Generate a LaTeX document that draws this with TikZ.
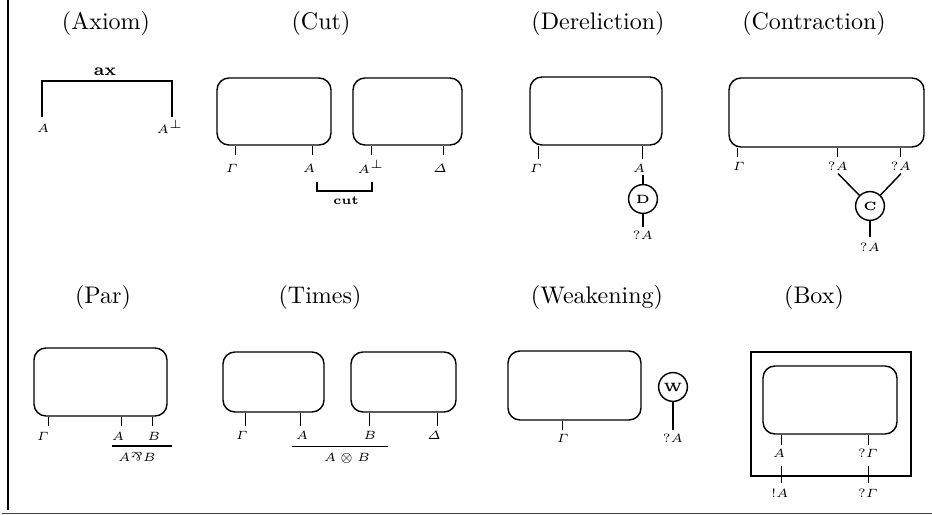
\documentclass[tikz,border=0pt]{standalone}
\usepackage{amsmath}
\usetikzlibrary{fit}
\begin{document}
\begin{tikzpicture}[x=0.416667pt,y=-0.416667pt,
  lw/.style={line width=0.6pt},
  pbox/.style={draw,lw,rounded corners=5pt,inner sep=0pt},
  sbox/.style={draw,lw,inner sep=0pt},
  wire/.style={lw},
  ttl/.style={inner sep=0pt,font=\normalsize},
  lbl/.style={inner sep=0pt,font=\tiny},
  blbl/.style={inner sep=0pt},
  gate/.style={draw,lw,circle,inner sep=0pt,minimum size=12pt,font=\tiny\bfseries},
]
\useasboundingbox (0,0) rectangle (932,515);
% frame
\coordinate (fTop) at (8,0);
\coordinate (fBot) at (8,510);
\draw[line width=0.75pt] (fTop) -- (fBot);
\coordinate (hL) at (2,513.6);
\coordinate (hR) at (932,513.6);
\draw[line width=0.75pt,black!75] (hL) -- (hR);

% titles
\node[ttl] (tAx) at (106,24) {(Axiom)};
\node[ttl] (tCut) at (321,24) {(Cut)};
\node[ttl] (tDer) at (598,24) {(Dereliction)};
\node[ttl] (tCon) at (814,24) {(Contraction)};
\node[ttl] (tPar) at (103,298) {(Par)};
\node[ttl] (tTim) at (320,298) {(Times)};
\node[ttl] (tWea) at (597,298) {(Weakening)};
\node[ttl] (tBox) at (814,298) {(Box)};

% ---------- Axiom
\node[lbl] (axA) at (43,128) {$A$};
\node[lbl] (axB) at (170,127) {$A^{\perp}$};
\coordinate (axL) at (42,117);
\coordinate (axR) at (172,117);
\draw[wire] (axL) -- ++(0,-36) -| (axR);
\node[blbl,font=\scriptsize\bfseries] (ax) at (105,72) {ax};

% ---------- Cut
\node[pbox,fit={(217,78)(331,145)}] (cb1) {};
\node[pbox,fit={(353,78)(462,145)}] (cb2) {};
\draw[wire] (cb1.south west) ++(19,0) -- ++(0,9);
\draw[wire] (cb1.south west) ++(96,0) -- ++(0,9);
\draw[wire] (cb2.south west) ++(19,0) -- ++(0,9);
\draw[wire] (cb2.south west) ++(91,0) -- ++(0,9);
\node[lbl] (cG) at (232,168) {$\varGamma$};
\node[lbl] (cA) at (309,168) {$A$};
\node[lbl] (cAp) at (371,167) {$A^{\perp}$};
\node[lbl] (cD) at (440,168) {$\varDelta$};
\coordinate (cutL) at (317,182);
\coordinate (cutR) at (372,182);
\draw[wire] (cutL) -- ++(0,9) -| (cutR);
\node[blbl,font=\tiny\bfseries] (cut) at (346,201) {cut};

% ---------- Dereliction
\node[pbox,fit={(530,77)(662,145)}] (db) {};
\draw[wire] (db.south west) ++(9,0) -- ++(0,13);
\draw[wire] (db.south west) ++(113,0) -- ++(0,13);
\node[lbl] (dG) at (536,168) {$\varGamma$};
\node[lbl] (dA) at (639,168) {$A$};
\node[gate] (dD) at (643,199) {D};
\draw[wire] (dD.north) -- ++(0,-9);
\draw[wire] (dD.south) -- ++(0,13);
\node[lbl] (dQ) at (643,235) {$?A$};

% ---------- Contraction
\node[pbox,fit={(729,78)(924,147)}] (kb) {};
\draw[wire] (kb.south west) ++(9,0) -- ++(0,9);
\draw[wire] (kb.south west) ++(109,0) -- ++(0,9);
\draw[wire] (kb.south west) ++(172,0) -- ++(0,9);
\node[lbl] (kG) at (739,166) {$\varGamma$};
\node[lbl] (kq1) at (838,166) {$?A$};
\node[lbl] (kq2) at (901,166) {$?A$};
\node[gate] (kC) at (870,206) {C};
\draw[wire] (kq1.south) ++(0,3) -- (kC);
\draw[wire] (kq2.south) ++(0,3) -- (kC);
\draw[wire] (kC.south) -- ++(0,16);
\node[lbl] (kQ) at (870,247) {$?A$};

% ---------- Par
\node[pbox,fit={(34,348)(167,416)}] (pb) {};
\draw[wire] (pb.south west) ++(15,0) -- ++(0,9);
\draw[wire] (pb.south west) ++(88,0) -- ++(0,9);
\draw[wire] (pb.south west) ++(119,0) -- ++(0,9);
\node[lbl] (pG) at (43,436) {$\varGamma$};
\node[lbl] (pA) at (118,436) {$A$};
\node[lbl] (pB) at (154,436) {$B$};
\node[lbl] (pAB) at (137,457) {$A\rotatebox[origin=c]{180}{\&}B$};
\draw[wire] (pAB.north) ++(-25,-6) -- ++(60,0);

% ---------- Times
\node[pbox,fit={(223,352)(324,412)}] (tb1) {};
\node[pbox,fit={(351,352)(456,412)}] (tb2) {};
\draw[wire] (tb1.south west) ++(23,0) -- ++(0,13);
\draw[wire] (tb1.south west) ++(78,0) -- ++(0,13);
\draw[wire] (tb2.south west) ++(19,0) -- ++(0,13);
\draw[wire] (tb2.south west) ++(87,0) -- ++(0,13);
\node[lbl] (tG) at (242,435) {$\varGamma$};
\node[lbl] (tA) at (302,435) {$A$};
\node[lbl] (tB) at (370,435) {$B$};
\node[lbl] (tD) at (434,435) {$\varDelta$};
\node[lbl] (tAB) at (347,458) {$A\otimes B$};
\draw[wire] (tAB.north) ++(-55,-6) -- ++(96,0);

% ---------- Weakening
\node[pbox,fit={(508,351)(641,420)}] (wb) {};
\draw[wire] (wb.south west) ++(55,0) -- ++(0,9);
\node[lbl] (wG) at (563,438) {$\varGamma$};
\node[gate] (wW) at (673,387) {W};
\draw[wire] (wW.south) -- ++(0,27.6);
\node[lbl] (wQ) at (673,438) {$?A$};

% ---------- Box
\node[sbox,fit={(751,352)(911,476)}] (bo) {};
\node[pbox,fit={(763,366)(897,434)}] (bi) {};
\draw[wire] (bi.south west) ++(19,0) -- ++(0,10);
\draw[wire] (bi.south west) ++(106,0) -- ++(0,10);
\node[lbl] (bA) at (779,453) {$A$};
\node[lbl] (bG) at (868,453) {$?\varGamma$};
\draw[wire] (bo.south west) ++(31,-11) -- ++(0,17);
\draw[wire] (bo.south west) ++(118,-11) -- ++(0,17);
\node[lbl] (bA2) at (780,493) {$!A$};
\node[lbl] (bG2) at (868,493) {$?\varGamma$};
\end{tikzpicture}
\end{document}
